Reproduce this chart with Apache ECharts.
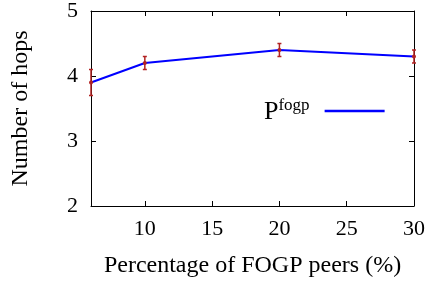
<!DOCTYPE html>
<html><head><meta charset="utf-8">
<script src="https://cdn.jsdelivr.net/npm/echarts@6/dist/echarts.min.js"></script>
<style>html,body{margin:0;padding:0;background:#fff}#c{width:428px;height:286px}</style>
</head><body><div id="c"></div>
<script>
const xValues = [6, 10, 20, 30];
const hops = [3.9, 4.2, 4.4, 4.3];
const hopsErr = [0.2, 0.1, 0.1, 0.1];
const xTicks = [10, 15, 20, 25, 30];
const yTicks = [2, 3, 4, 5];
const seriesName = 'P^fogp';

const font = 'Liberation Serif';
const lineData = xValues.map((x, i) => [x, hops[i]]);
const errData = xValues.map((x, i) => [x, hops[i] - hopsErr[i], hops[i] + hopsErr[i], hops[i]]);

const chart = echarts.init(document.getElementById('c'), null, {renderer: 'canvas'});
const axisLine = {show: true, lineStyle: {color: '#000', width: 1}};
chart.setOption({
  animation: false,
  backgroundColor: '#fff',
  grid: {left: 91, right: 14, top: 11, bottom: 80},
  legend: {
    show: true,
    data: [{name: seriesName, icon: 'rect'}],
    left: 259, top: 92,
    align: 'right',
    itemWidth: 60, itemHeight: 2.5,
    itemStyle: {color: '#0000ff'},
    formatter: () => '{p|P}{s|fogp}',
    textStyle: {
      rich: {
        p: {fontFamily: font, fontSize: 26, color: '#000', verticalAlign: 'bottom', lineHeight: 28},
        s: {fontFamily: font, fontSize: 17, color: '#000', verticalAlign: 'top', padding: [0, 10, 10, 0], lineHeight: 28}
      }
    }
  },
  xAxis: [{
    type: 'value', min: 6, max: 30,
    axisLine, splitLine: {show: false},
    axisTick: {show: true, inside: true, length: 5, customValues: xTicks, lineStyle: {color: '#000'}},
    axisLabel: {customValues: xTicks, fontFamily: font, fontSize: 22, color: '#000', margin: 12},
    name: 'Percentage of FOGP peers (%)', nameLocation: 'middle', nameGap: 48,
    nameTextStyle: {fontFamily: font, fontSize: 24, color: '#000'}
  }, {
    type: 'value', min: 6, max: 30, position: 'top',
    axisLine, splitLine: {show: false},
    axisTick: {show: true, inside: true, length: 5, customValues: xTicks, lineStyle: {color: '#000'}},
    axisLabel: {show: false}
  }],
  yAxis: [{
    type: 'value', min: 2, max: 5, interval: 1,
    axisLine, splitLine: {show: false},
    axisTick: {show: true, inside: true, length: 5, customValues: yTicks, lineStyle: {color: '#000'}},
    axisLabel: {customValues: yTicks, fontFamily: font, fontSize: 22, color: '#000', margin: 13},
    name: 'Number of hops', nameLocation: 'middle', nameGap: 58,
    nameTextStyle: {fontFamily: font, fontSize: 24, color: '#000'}
  }, {
    type: 'value', min: 2, max: 5, interval: 1, position: 'right',
    axisLine, splitLine: {show: false},
    axisTick: {show: true, inside: true, length: 5, customValues: yTicks, lineStyle: {color: '#000'}},
    axisLabel: {show: false}
  }],
  series: [{
    name: seriesName,
    type: 'line',
    data: lineData,
    symbol: 'none',
    itemStyle: {color: '#0000ff'},
    lineStyle: {color: '#0000ff', width: 2},
    z: 2
  }, {
    type: 'custom',
    data: errData,
    z: 3,
    renderItem: function (params, api) {
      const x = api.value(0);
      const lo = api.coord([x, api.value(1)]);
      const hi = api.coord([x, api.value(2)]);
      const mid = api.coord([x, api.value(3)]);
      const cw = 2;
      const st = {stroke: '#b22222', lineWidth: 1.5};
      return {
        type: 'group',
        children: [
          {type: 'line', shape: {x1: lo[0], y1: lo[1], x2: hi[0], y2: hi[1]}, style: st},
          {type: 'line', shape: {x1: lo[0] - cw, y1: lo[1], x2: lo[0] + cw, y2: lo[1]}, style: st},
          {type: 'line', shape: {x1: hi[0] - cw, y1: hi[1], x2: hi[0] + cw, y2: hi[1]}, style: st},
          {type: 'circle', shape: {cx: mid[0], cy: mid[1], r: 2}, style: {fill: '#b22222'}}
        ]
      };
    }
  }]
});
</script></body></html>
